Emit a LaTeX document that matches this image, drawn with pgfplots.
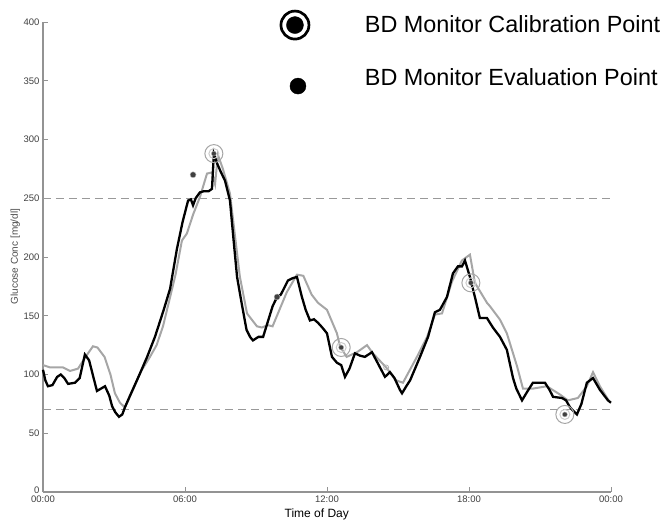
\documentclass[border=0pt]{standalone}
\usepackage{pgfplots}
\pgfplotsset{compat=1.18}
\usepackage{fontspec}
\setmainfont{Liberation Sans}

% glucose traces, hours vs mg/dl
\pgfplotstableread{
h v
0 104
0.1 95
0.21 90
0.4 91
0.6 98
0.75 100
0.9 97
1.06 92
1.35 93
1.55 97
1.77 117
1.95 112
2.1 100
2.28 86
2.45 88
2.62 90
2.8 82
2.92 73
3.05 68
3.21 64
3.35 66
3.46 72
3.7 83
4.1 101
4.4 115
4.73 132
5.1 155
5.37 173
5.66 207
5.9 230
6.13 248
6.25 249
6.34 244
6.45 250
6.63 255
6.8 256
7.0 256
7.14 258
7.22 288
7.35 280
7.5 273
7.69 265
7.9 248
8.05 215
8.2 183
8.4 160
8.6 138
8.75 132
8.87 129
9.1 132
9.3 132
9.5 145
9.7 158
9.89 166
10.05 168
10.35 180
10.55 182
10.73 183
10.94 166
11.1 155
11.28 146
11.45 147
11.62 144
11.8 140
12.0 135
12.21 115
12.42 110
12.6 108
12.76 98
12.95 105
13.18 118
13.4 116
13.6 115
13.9 119
14.24 106
14.45 98
14.66 102
14.85 97
15.08 87
15.17 84
15.35 90
15.51 95
15.7 104
15.93 115
16.27 132
16.56 153
16.77 155
17.07 166
17.32 186
17.53 192
17.7 192
17.83 197
18.04 183
18.25 166
18.46 148
18.76 148
19.01 140
19.31 132
19.6 121
19.86 97
20.0 88
20.24 78
20.45 85
20.7 93
21.21 93
21.4 87
21.55 81
21.93 80
22.1 78
22.27 72
22.56 66
22.75 75
22.98 93
23.24 97
23.53 87
23.87 78
24 76
}\monitor

\pgfplotstableread{
h v
0 108
0.3 106
0.85 106
1.14 103
1.48 105
1.8 115
2.11 124
2.3 123
2.6 115
2.85 100
3.04 84
3.25 76
3.46 72
3.8 87
4.15 103
4.52 115
4.8 125
5.07 141
5.3 160
5.6 185
5.87 214
6.08 220
6.34 236
6.63 251
6.93 271
7.14 272
7.27 262
7.39 287
7.6 275
7.9 254
8.1 220
8.32 183
8.62 152
9.04 141
9.25 140
9.5 142
9.7 141
10.3 170
10.73 185
11.0 184
11.35 168
11.62 161
12.0 155
12.42 135
12.55 124
12.83 115
13.27 119
13.69 125
13.94 118
14.5 106
14.92 95
15.21 93
15.8 115
16.23 132
16.56 151
16.86 152
17.28 179
17.7 197
18.04 202
18.25 178
18.76 161
18.89 158
19.3 147
19.6 135
20.03 107
20.28 88
20.7 88
21.29 90
21.84 83
22.18 78
22.6 80
22.98 90
23.24 102
23.53 90
23.9 78
}\reference

\begin{document}
\begin{tikzpicture}
\begin{axis}[
  at={(0,0)}, anchor=south west,
  scale only axis, width=568pt, height=470pt,
  xmin=0, xmax=24, ymin=0, ymax=400,
  axis x line=bottom, axis y line=left,
  axis line style={-, draw=gray!85, line width=1.3pt},
  xtick={0,6,12,18,24},
  xticklabels={00:00,06:00,12:00,18:00,00:00},
  ytick={0,50,...,400},
  yticklabel={\ifnum\ticknum=0 \raisebox{3pt}{0}\else\pgfmathprintnumber{\tick}\fi},
  tick align=inside, major tick length=5pt,
  tick style={draw=gray!85, line width=0.8pt},
  ticklabel style={font=\fontsize{9.5}{10}\selectfont, text=black!75},
  /pgf/number format/assume math mode=true,
  xlabel={Time of Day}, ylabel={Glucose Conc [mg/dl]},
  xlabel style={at={(axis description cs:0.482,-0.047)}, anchor=center,
    font=\fontsize{12}{13}\selectfont},
  ylabel style={at={(axis description cs:-0.049,0.501)}, anchor=center,
    font=\fontsize{10}{11}\selectfont, text=black!70},
  clip=false,
  legend style={at={(axis cs:9.97,411)}, anchor=north west, draw=none, fill=none,
    inner sep=0pt, outer sep=0pt, row sep=21pt,
    font=\fontsize{23.4}{24}\selectfont},
  legend cell align=left,
]
\addlegendimage{legend image code/.code={
  \path[draw=none, fill=none] (-16pt,-16pt) rectangle (68pt,16pt);
  \draw[black, line width=2.7pt] (0,0) circle (14pt);
  \fill[black] (0,0) circle (8.5pt);}}
\addlegendentry{BD Monitor Calibration Point}
\addlegendimage{legend image code/.code={
  \path[draw=none, fill=none] (-16pt,-16pt) rectangle (68pt,16pt);
  \fill[black] (3pt,-8pt) circle (8pt);}}
\addlegendentry{BD Monitor Evaluation Point}

\addplot[forget plot, draw=gray!80, line width=1.2pt, dash pattern=on 8pt off 5pt]
  coordinates {(0,250) (24,250)};
\addplot[forget plot, draw=gray!80, line width=1.2pt, dash pattern=on 8pt off 5pt]
  coordinates {(0,70) (24,70)};

\addplot[forget plot, draw=black!35, line width=2pt] table[x=h, y=v] {\reference};
\addplot[forget plot, draw=black, line width=2.3pt] table[x=h, y=v] {\monitor};

% calibration points
\addplot[forget plot, only marks, mark=o, mark size=9pt,
  mark options={draw=gray!70, line width=1pt}] coordinates {
  (7.22,288) (12.6,123) (18.08,178) (22.05,66)};
\addplot[forget plot, only marks, mark=o, mark size=5pt,
  mark options={draw=gray!40, line width=1pt}] coordinates {
  (7.22,288) (12.6,123) (18.08,178) (22.05,66)};
\addplot[forget plot, only marks, mark=*, mark size=2.5pt,
  mark options={fill=black!75, draw=gray!60}] coordinates {
  (7.22,288) (12.6,123) (18.08,178) (22.05,66)};
% evaluation points
\addplot[forget plot, only marks, mark=*, mark size=3pt,
  mark options={fill=black!75, draw=gray!50}] coordinates {
  (6.34,270) (9.89,166)};
\addplot[forget plot, only marks, mark=o, mark size=2.5pt,
  mark options={draw=gray!60, line width=0.8pt}] coordinates {(14.5,106)};
\end{axis}
\pgfresetboundingbox
\path[use as bounding box] (-43pt,-33pt) rectangle (622pt,492pt);
\end{tikzpicture}
\end{document}
